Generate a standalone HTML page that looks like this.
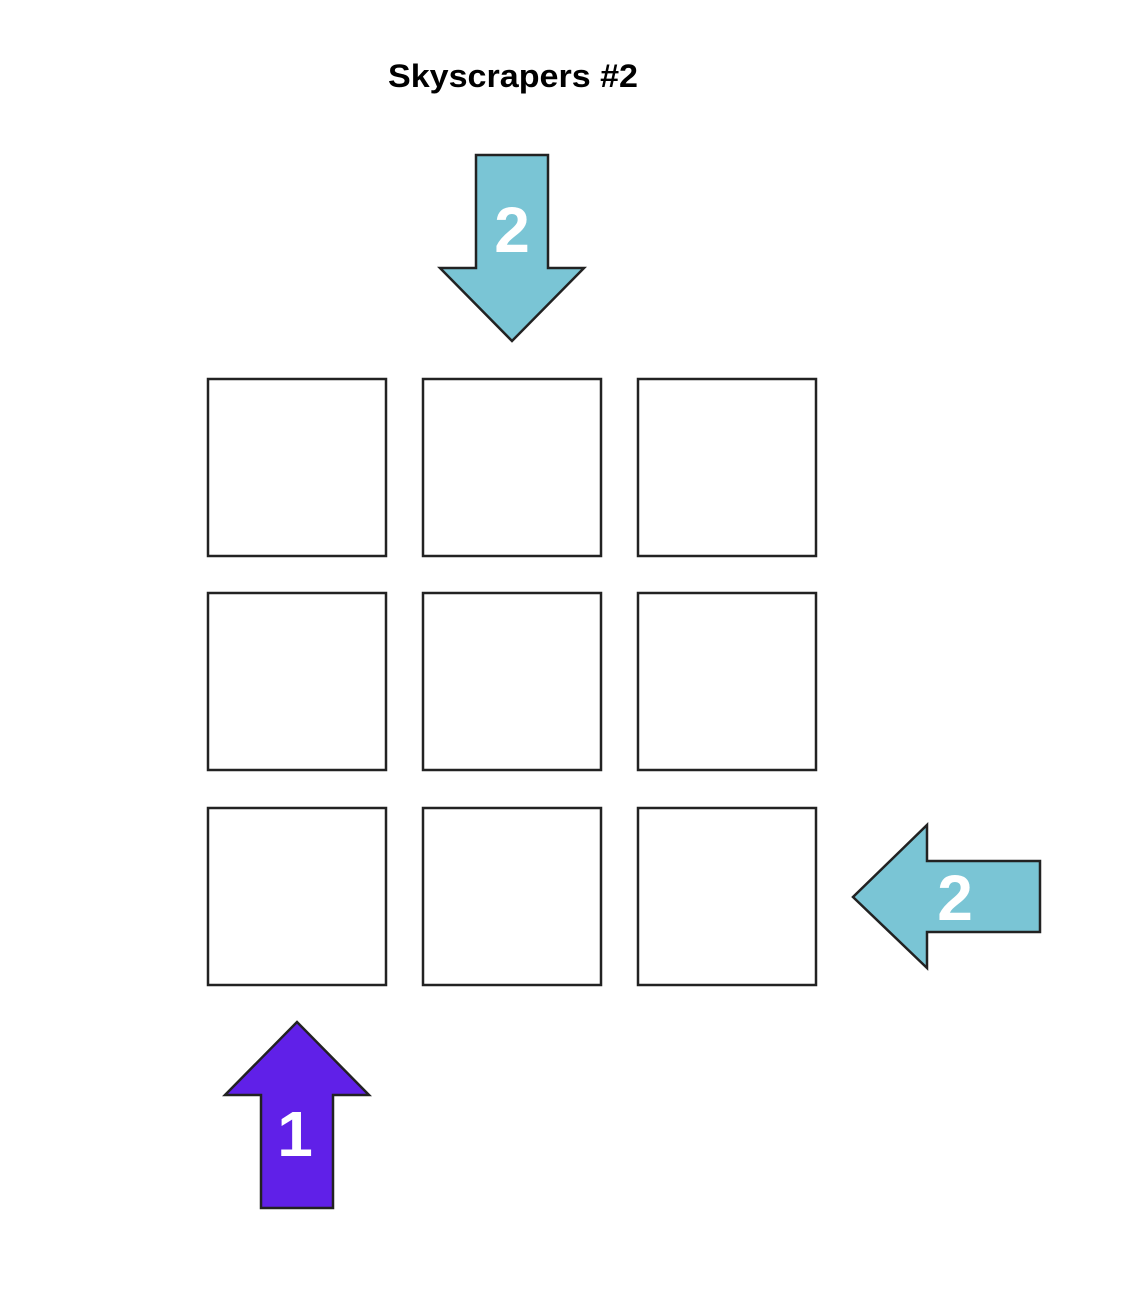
<!DOCTYPE html>
<html><head><meta charset="utf-8"><style>
html,body{margin:0;padding:0;background:#fff;width:1136px;height:1302px;overflow:hidden}
svg{display:block}
</style></head><body>
<svg width="1136" height="1302" viewBox="0 0 1136 1302">
<text x="388" y="87" textLength="250" lengthAdjust="spacingAndGlyphs" font-family="Liberation Sans, sans-serif" font-weight="bold" font-size="32" fill="#000">Skyscrapers #2</text>
<g id="grid" fill="#fff" stroke="#222" stroke-width="2.5"></g>
<g>
<polygon points="476,155 548,155 548,268 584,268 512,341 440,268 476,268" fill="#7ac5d5" stroke="#222" stroke-width="2.5"/>
<text x="512" y="252" text-anchor="middle" font-family="Liberation Sans, sans-serif" font-weight="bold" font-size="64" fill="#fff">2</text>
</g>
<g>
<polygon points="1040,861 1040,932 927,932 927,968 853,897 927,825 927,861" fill="#7ac5d5" stroke="#222" stroke-width="2.5"/>
<text x="955" y="920" text-anchor="middle" font-family="Liberation Sans, sans-serif" font-weight="bold" font-size="64" fill="#fff">2</text>
</g>
<g>
<polygon points="261,1208 333,1208 333,1095 369,1095 297,1022 225,1095 261,1095" fill="#6020e8" stroke="#222" stroke-width="2.5"/>
<text x="295" y="1156" text-anchor="middle" font-family="Liberation Sans, sans-serif" font-weight="bold" font-size="64" fill="#fff">1</text>
</g>
</svg>
<script>
const xs=[208,423,638], ys=[379,593,808];
const g=document.getElementById('grid');
ys.forEach((y,r)=>xs.forEach((x,c)=>{
  const el=document.createElementNS('http://www.w3.org/2000/svg','rect');
  el.setAttribute('x',x);el.setAttribute('y',y);el.setAttribute('width',178);el.setAttribute('height',177);
  
  
  g.appendChild(el);
}));
</script>
</body></html>
